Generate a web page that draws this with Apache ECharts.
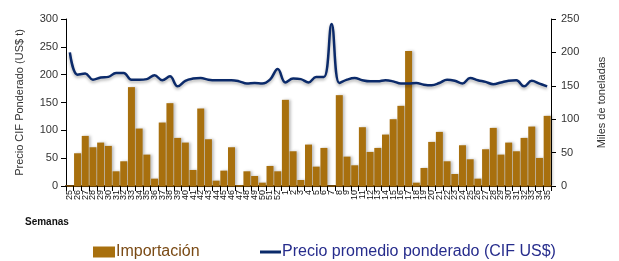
<!DOCTYPE html>
<html>
<head>
<meta charset="utf-8">
<script src="https://cdn.jsdelivr.net/npm/echarts@6/dist/echarts.min.js"></script>
<style>
html,body{margin:0;padding:0;background:#fff;}
#c{width:619px;height:261px;}
</style>
</head>
<body>
<div id="c"></div>
<script>
var weeks = ['25','26','27','28','29','30','31','32','33','34','35','36','37','38','39','40','41','42','43','44','45','46','47','48','49','50','51','52',
'1','2','3','4','5','6','7','8','9','10','11','12','13','14','15','16','17','18','19','20','21','22','23','24','25','26','27','28','29','30','31','32','33','34','35'];
var importacion = [0,49,75,58,65,60,22,37,148,86,47,11,95,124,72,65,24,116,70,8,23,58,1,22,15,5,30,22,
129,52,9,62,29,57,0,136,44,31,88,51,57,77,100,120,202,5,27,66,81,37,18,61,40,11,55,87,47,65,52,72,89,42,105];
var precio = [240,200,202,191,195,196,203,203,191,191,192,199,190,197,179,189,193,194,191,190,190,190,188,184,185,184,191,210,
186,193,192,186,196,196,291,185,191,194,190,188,188,190,188,184,184,185,182,181,185,191,189,184,194,190,187,183,186,189,190,179,189,184,179];
var leftTicks = {min:0, max:300, interval:50};
var rightTicks = {min:0, max:250, interval:50};

var chart = echarts.init(document.getElementById('c'), null, {renderer:'canvas'});
var font = 'Liberation Sans, Arial, sans-serif';
chart.setOption({
  animation:false,
  textStyle:{fontFamily:font},
  grid:{left:66,right:68,top:19,bottom:75,containLabel:false},
  legend:[{
    data:['Importación'],left:88,top:239,itemWidth:22,itemHeight:11,icon:'rect',
    textStyle:{color:'#7a4a14',fontSize:16,fontFamily:font,padding:[0,0,0,-4]}
  },{
    data:['Precio promedio ponderado (CIF US$)'],left:255,top:239,itemWidth:21,itemHeight:3,icon:'rect',
    textStyle:{color:'#262c8c',fontSize:16,fontFamily:font,padding:[0,0,0,-4]}
  }],
  graphic:[{type:'text',left:25,top:217,style:{text:'Semanas',font:'bold 10px '+font,fill:'#111'}}],
  xAxis:{
    type:'category',data:weeks,boundaryGap:true,
    axisLine:{lineStyle:{color:'#6b4408',width:2}},
    axisTick:{show:true,interval:0,length:5,lineStyle:{color:'#000'}},
    axisLabel:{interval:0,rotate:90,fontSize:9,color:'#111',margin:4,fontFamily:font}
  },
  yAxis:[{
    type:'value',min:leftTicks.min,max:leftTicks.max,interval:leftTicks.interval,
    name:'Precio CIF Ponderado (US$ t)',nameLocation:'middle',nameRotate:90,nameGap:41,
    nameTextStyle:{fontSize:11,color:'#333',fontFamily:font},
    axisLine:{show:true,lineStyle:{color:'#000'}},
    axisTick:{show:true,length:5,lineStyle:{color:'#000'}},
    axisLabel:{fontSize:11,color:'#333',margin:8,fontFamily:font},
    splitLine:{show:false}
  },{
    type:'value',min:rightTicks.min,max:rightTicks.max,interval:rightTicks.interval,position:'right',
    name:'Miles de toneladas',nameLocation:'middle',nameRotate:90,nameGap:45,
    nameTextStyle:{fontSize:11,color:'#333',fontFamily:font},
    axisLine:{show:true,lineStyle:{color:'#000'}},
    axisTick:{show:true,length:5,inside:false,lineStyle:{color:'#000'}},
    axisLabel:{fontSize:11,color:'#333',margin:10,fontFamily:font},
    splitLine:{show:false}
  }],
  series:[{
    name:'Importación',type:'bar',yAxisIndex:1,data:importacion,barWidth:7,
    itemStyle:{color:'#a8700e',shadowColor:'rgba(0,0,0,0.25)',shadowBlur:3,shadowOffsetX:2,shadowOffsetY:0}
  },{
    name:'Precio promedio ponderado (CIF US$)',type:'line',yAxisIndex:0,data:precio,smooth:0.4,
    symbol:'none',z:5,
    lineStyle:{color:'#0b2a6a',width:2.5,shadowColor:'rgba(0,0,0,0.3)',shadowBlur:3,shadowOffsetY:2},
    itemStyle:{color:'#0b2a6a'}
  }]
});
</script>
</body>
</html>
